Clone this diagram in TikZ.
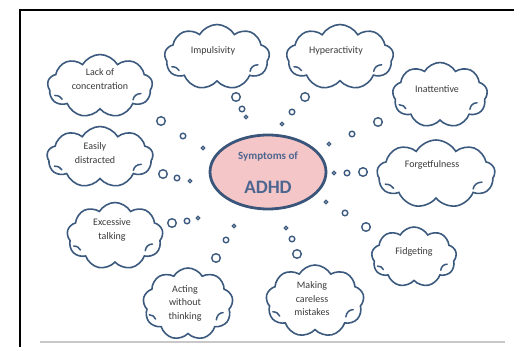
\documentclass[tikz,border=0pt]{standalone}
\usepackage{fontspec}
\setmainfont{Carlito}
\usetikzlibrary{shapes.symbols,shapes.geometric}
\definecolor{cloudline}{HTML}{3C5A7E}
\definecolor{ellfill}{HTML}{F5C6C8}
\definecolor{ellline}{HTML}{3A557A}
\definecolor{elltext}{HTML}{4C6690}
\definecolor{txt}{HTML}{3A3A3A}
\definecolor{rule}{HTML}{C8C8C8}
\tikzset{
  thought/.style={cloud, cloud puffs=9, cloud puff arc=120, draw=cloudline,
    line width=1.6pt, fill=white, inner sep=0pt},
  hook/.style={draw=cloudline, line width=1.5pt, line cap=round},
  lbl/.style={font=\fontsize{10}{13.5}\selectfont, text=txt, align=center, inner sep=0pt},
  bub/.style={circle, draw=cloudline, line width=1.4pt, inner sep=0pt, fill=white},
  bigb/.style={bub, minimum size=8.6pt},
  midb/.style={bub, minimum size=5.6pt},
  smlb/.style={bub, line width=1.2pt, minimum size=3.4pt},
}
\begin{document}
\begin{tikzpicture}[x=1pt,y=-1pt]
\useasboundingbox (0,0) rectangle (514,347);
% frame
\draw[line width=2pt, black] (20,347) -- (20,10) -- (514,10);
\draw[line width=1.5pt, rule] (40,342) -- (505,342);

% centre
\node[ellipse, draw=ellline, fill=ellfill, line width=2.8pt,
      minimum width=116pt, minimum height=74pt] (ctr) at (268,172) {};
\node[font=\bfseries\fontsize{11}{13}\selectfont, text=elltext] (ctr1) at (268,157) {Symptoms of};
\node[font=\bfseries\fontsize{19}{21}\selectfont, text=elltext] (ctr2) at (268,187) {ADHD};

% clouds
\node[thought, minimum width=105pt, minimum height=63pt] (conc) at (100,86) {};
\node[thought, minimum width=105pt, minimum height=65pt] (imp) at (217,57) {};
\node[thought, minimum width=107pt, minimum height=65pt] (hyp) at (340,57) {};
\node[thought, minimum width=95pt, minimum height=65pt] (inat) at (440,95) {};
\node[thought, minimum width=118pt, minimum height=68pt] (forg) at (436,174) {};
\node[thought, minimum width=85pt, minimum height=60pt] (fidg) at (414,257) {};
\node[thought, minimum width=98pt, minimum height=72pt] (mist) at (315,301) {};
\node[thought, minimum width=90pt, minimum height=72pt] (act) at (188,304) {};
\node[thought, minimum width=96pt, minimum height=67pt] (talk) at (115,236) {};
\node[thought, minimum width=106pt, minimum height=61pt] (dist) at (100,157) {};

% inner curls of the clouds
\foreach \n/\w/\h in {conc/105/63, imp/105/65, hyp/107/65, inat/95/65, forg/118/68,
                      fidg/85/60, mist/98/72, act/90/72, talk/96/67, dist/106/61}{
  \pgfmathsetmacro\hw{\w/2}
  \pgfmathsetmacro\hh{\h/2}
  \begin{scope}[shift={(\n.center)}, x=\hw pt, y=-\hh pt]
    \draw[hook] (0.78,0.24) .. controls (0.70,0.24) and (0.64,0.32) .. (0.63,0.44);
    \draw[hook] (-0.86,0.30) .. controls (-0.79,0.30) and (-0.74,0.35) .. (-0.72,0.42);
  \end{scope}
}

% texts
\node[lbl] (conct) at (100,79) {Lack of\\concentration};
\node[lbl] (impt) at (213,51) {Impulsivity};
\node[lbl] (hypt) at (336,51) {Hyperactivity};
\node[lbl] (inatt) at (437,89) {Inattentive};
\node[lbl] (forgt) at (432,165) {Forgetfulness};
\node[lbl] (fidgt) at (414,252) {Fidgeting};
\node[lbl] (mistt) at (312,299) {Making\\careless\\mistakes};
\node[lbl] (actt) at (185,303) {Acting\\without\\thinking};
\node[lbl] (talkt) at (112,230) {Excessive\\talking};
\node[lbl] (distt) at (95,153) {Easily\\distracted};

% thought bubbles
\node[bigb] (b1a) at (236,97) {};  \node[midb] (b1b) at (242,109) {}; \node[smlb] (b1c) at (246,117) {};
\node[bigb] (b2a) at (161,121) {}; \node[midb] (b2b) at (183,136) {}; \node[smlb] (b2c) at (203,148) {};
\node[bigb] (b3a) at (305,97) {};  \node[midb] (b3b) at (292,112) {}; \node[smlb] (b3c) at (282,124) {};
\node[bigb] (b4a) at (378,122) {}; \node[midb] (b4b) at (352,134) {}; \node[smlb] (b4c) at (329,144) {};
\node[bigb] (b5a) at (363,172) {}; \node[midb] (b5b) at (347,173) {}; \node[smlb] (b5c) at (334,173) {};
\node[bigb] (b6a) at (366,227) {}; \node[midb] (b6b) at (345,213) {}; \node[smlb] (b6c) at (326,202) {};
\node[bigb] (b7a) at (297,254) {}; \node[midb] (b7b) at (292,239) {}; \node[smlb] (b7c) at (286,228) {};
\node[bigb] (b8a) at (216,258) {}; \node[midb] (b8b) at (226,240) {}; \node[smlb] (b8c) at (234,226) {};
\node[bigb] (b9a) at (172,223) {}; \node[midb] (b9b) at (187,221) {}; \node[smlb] (b9c) at (198,218) {};
\node[bigb] (b10a) at (163,174) {}; \node[midb] (b10b) at (177,178) {}; \node[smlb] (b10c) at (190,181) {};
\end{tikzpicture}
\end{document}
